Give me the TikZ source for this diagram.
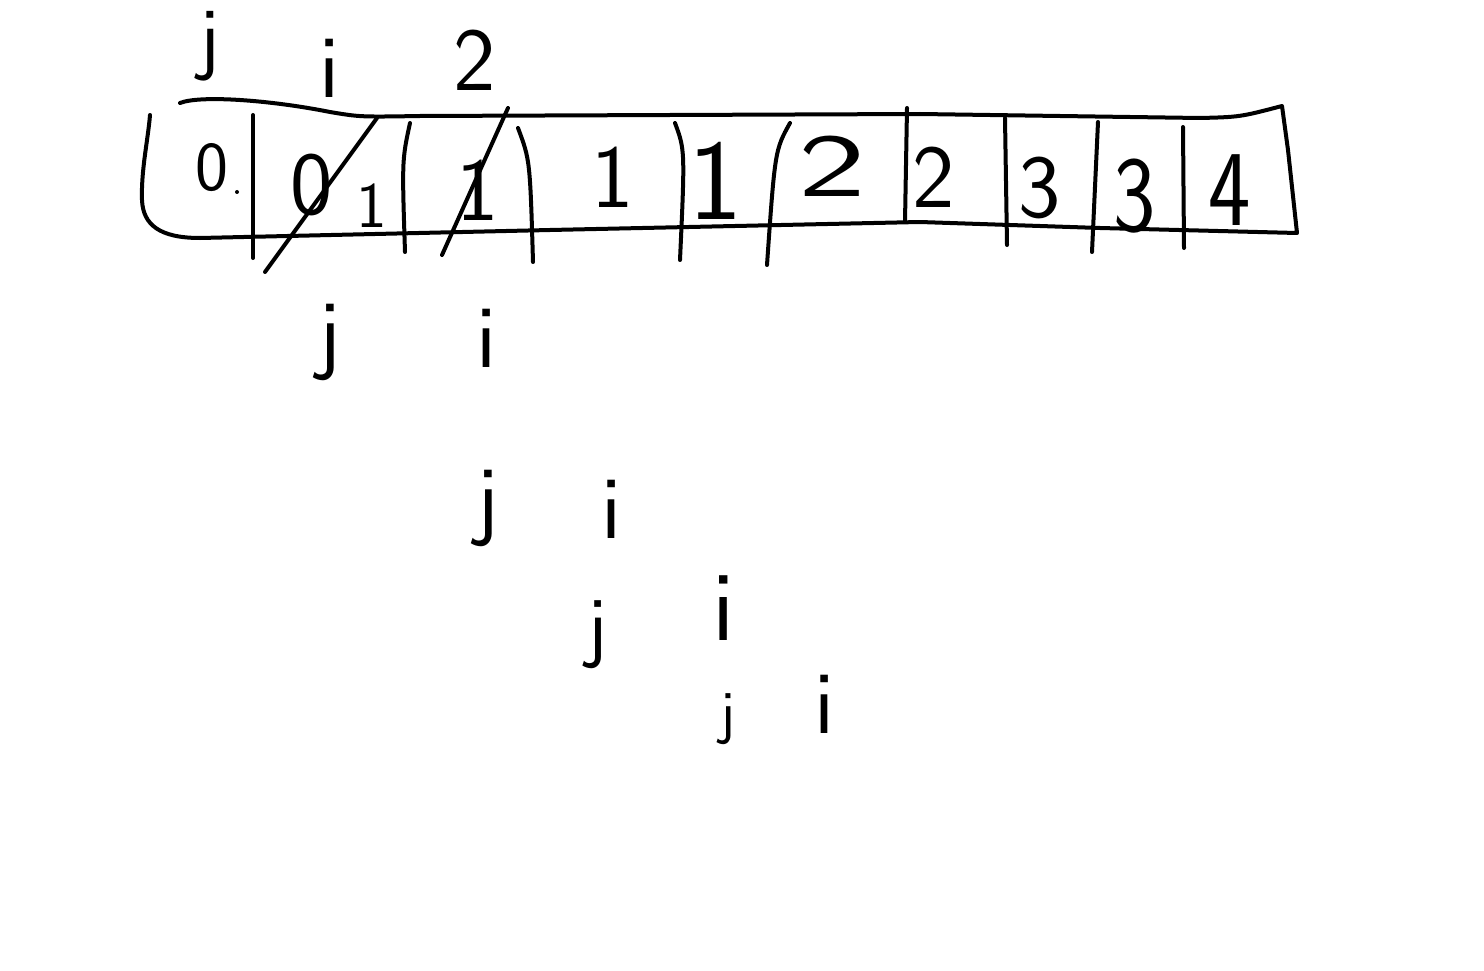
\documentclass[tikz,border=0pt]{standalone}
\usepackage{fontspec}
\newcommand{\hand}[1]{\fontsize{#1}{#1}\selectfont}
\tikzset{x=1pt, y=-1pt,
    pen/.style={line width=4pt, line cap=round, line join=round},
    every node/.append style={inner sep=0pt, font=\sffamily\hand{90}}}

\begin{document}
\begin{tikzpicture}
                \useasboundingbox (0,0) rectangle (1484,971);
                % the array
                \draw[pen] (180,103) .. controls (200,95) and (270,100) .. (330,112)
                    .. controls (360,117) .. (420,116) -- (920,114) -- (1200,118)
                    .. controls (1240,117) .. (1282,106) -- (1288,150) -- (1297,233)
                    -- (1100,228) -- (920,222) -- (550,230) -- (200,238)
                    .. controls (160,238) and (143,225) .. (142,200)
                    .. controls (141,170) and (148,140) .. (150,115);
                \draw[pen] (253,115) -- (253,258);
                \draw[pen] (410,123) .. controls (402,160) .. (405,252);
                \draw[pen] (518,128) .. controls (530,160) .. (533,262);
                \draw[pen] (675,123) .. controls (685,150) .. (680,260);
                \draw[pen] (790,123) .. controls (775,150) .. (767,265);
                \draw[pen] (907,108) -- (905,222);
                \draw[pen] (1005,118) -- (1007,245);
                \draw[pen] (1098,122) -- (1092,252);
                \draw[pen] (1183,127) -- (1184,248);
                % cell values
                \node[font=\sffamily\hand{70}] (c0) at (212,168) {0};
                \fill (237,192) circle (2pt);
                \node (c1) at (312,185) {0};
                \node[font=\sffamily\hand{65}] (c1b) at (372,206) {1};
                \node (c2) at (478,190) {1};
                \node (c3) at (613,177) {1};
                \node[font=\sffamily\hand{115}] (c4) at (716,181) {1};
                \node[xscale=1.6] (c5) at (832,166) {2};
                \node (c6) at (934,177) {2};
                \node (c7) at (1040,188) {3};
                \node[yscale=1.2] (c8) at (1135,196) {3};
                \node[yscale=1.2] (c9) at (1230,190) {4};
                % crossed out
                \draw[pen] (377,118) -- (265,272);
                \draw[pen] (508,108) -- (442,255);
                % pointers
                \node[font=\sffamily\hand{82}] (j0) at (210,46) {j};
                \node (i0) at (330,68) {i};
                \node (two) at (475,60) {2};
                \node (j1) at (330,342) {j};
                \node (i1) at (487,338) {i};
                \node (j2) at (488,508) {j};
                \node (i2) at (612,509) {i};
                \node[font=\sffamily\hand{80}] (j3) at (597,635) {j};
                \node[font=\sffamily\hand{100}] (i3) at (724,608) {i};
                \node[font=\sffamily\hand{60}] (j4) at (728,719) {j};
                \node (i4) at (825,704) {i};
            \end{tikzpicture}
\end{document}
